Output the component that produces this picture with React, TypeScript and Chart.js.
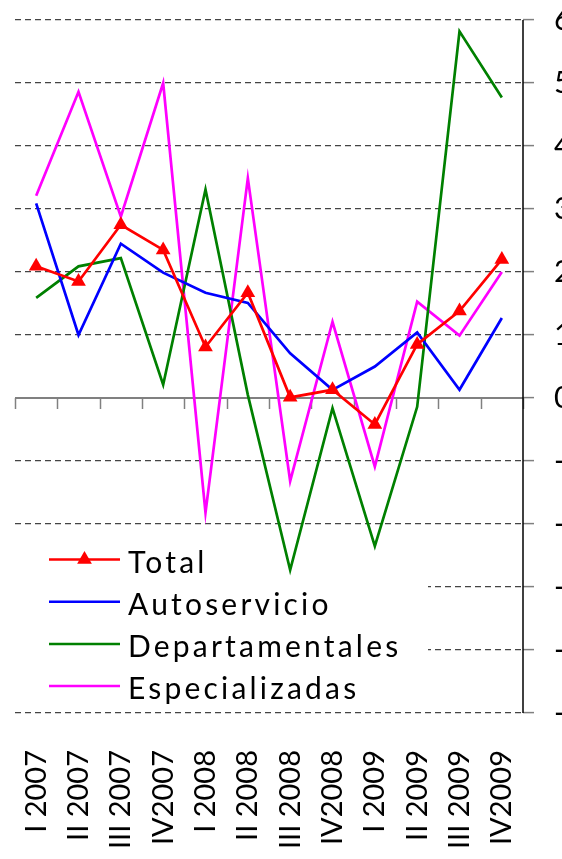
import React, { useEffect, useRef } from "react";
import { Chart, registerables } from "chart.js";

Chart.register(...registerables);

const categories = [
  "I 2007", "II 2007", "III 2007", "IV2007",
  "I 2008", "II 2008", "III 2008", "IV2008",
  "I 2009", "II 2009", "III 2009", "IV2009",
];

const total = [2.09, 1.85, 2.75, 2.35, 0.81, 1.67, 0.01, 0.13, -0.42, 0.85, 1.38, 2.2];
const autoservicio = [3.09, 1.0, 2.45, 1.99, 1.67, 1.51, 0.71, 0.13, 0.5, 1.04, 0.13, 1.27];
const departamentales = [1.59, 2.09, 2.22, 0.21, 3.31, 0.05, -2.73, -0.16, -2.35, -0.14, 5.82, 4.77];
const especializadas = [3.21, 4.86, 2.88, 5.0, -1.82, 3.49, -1.32, 1.21, -1.09, 1.53, 0.99, 2.0];

const seriesNames = ["Total", "Autoservicio", "Departamentales", "Especializadas"];
const seriesColors = ["#FF0000", "#0000FF", "#008000", "#FF00FF"];

const yMin = -5;
const yMax = 6;

const FONT = "Lato, 'Open Sans', sans-serif";

const extrasPlugin = {
  id: "extras",
  beforeDatasetsDraw(chart: any) {
    const { ctx, chartArea } = chart;
    const x = chart.scales.x;
    const y = chart.scales.y;
    ctx.save();
    ctx.fillStyle = "#ffffff";
    ctx.fillRect(chartArea.left, 542, 428 - chartArea.left, 162);
    const y0 = y.getPixelForValue(0);
    ctx.strokeStyle = "#808080";
    ctx.lineWidth = 2;
    ctx.beginPath();
    ctx.moveTo(chartArea.left, y0);
    ctx.lineTo(chartArea.right, y0);
    ctx.stroke();
    ctx.lineWidth = 1.5;
    for (let i = 0; i <= categories.length; i++) {
      const px = Math.round(x.getPixelForValue(i - 0.5)) + 0.5;
      ctx.beginPath();
      ctx.moveTo(px, y0);
      ctx.lineTo(px, y0 + 11);
      ctx.stroke();
    }
    ctx.strokeStyle = "#000000";
    ctx.lineWidth = 1.5;
    ctx.beginPath();
    ctx.moveTo(chartArea.right, y.getPixelForValue(yMax));
    ctx.lineTo(chartArea.right, y.getPixelForValue(yMin));
    ctx.stroke();
    ctx.restore();
  },
  afterDraw(chart: any) {
    const { ctx } = chart;
    ctx.save();
    const baseY = 559.5;
    const step = 42.2;
    chart.data.datasets.forEach((ds: any, i: number) => {
      const ly = baseY + i * step;
      ctx.strokeStyle = ds.borderColor;
      ctx.lineWidth = 2.5;
      ctx.beginPath();
      ctx.moveTo(49, ly);
      ctx.lineTo(120, ly);
      ctx.stroke();
      if (ds.pointStyle === "triangle") {
        const r = 8.5;
        const cx = 84.5;
        ctx.fillStyle = ds.borderColor;
        ctx.beginPath();
        ctx.moveTo(cx, ly - r);
        ctx.lineTo(cx + Math.sin((2 * Math.PI) / 3) * r, ly + r / 2);
        ctx.lineTo(cx - Math.sin((2 * Math.PI) / 3) * r, ly + r / 2);
        ctx.closePath();
        ctx.fill();
      }
      ctx.fillStyle = "#000000";
      ctx.font = `30px ${FONT}`;
      (ctx as any).letterSpacing = "3.2px";
      ctx.textBaseline = "alphabetic";
      ctx.textAlign = "left";
      ctx.fillText(ds.label, 128, ly + 13);
    });
    ctx.restore();
  },
};

export default function App() {
  const ref = useRef<HTMLCanvasElement>(null);
  useEffect(() => {
    if (!ref.current) return;
    const allSeries = [total, autoservicio, departamentales, especializadas];
    const chart = new Chart(ref.current, {
      type: "line",
      data: {
        labels: categories,
        datasets: allSeries.map((d, i) => ({
          label: seriesNames[i],
          data: d,
          borderColor: seriesColors[i],
          backgroundColor: seriesColors[i],
          borderWidth: 2.7,
          pointStyle: i === 0 ? "triangle" : "circle",
          pointRadius: i === 0 ? 8.5 : 0,
          pointBorderWidth: 0,
          tension: 0,
          fill: false,
        })),
      },
      options: {
        animation: false,
        responsive: false,
        maintainAspectRatio: false,
        layout: { padding: { left: 15, top: 20, right: 0, bottom: 0 } },
        plugins: { legend: { display: false }, tooltip: { enabled: false } },
        scales: {
          x: {
            type: "category",
            offset: true,
            grid: { display: false },
            border: { display: false },
            ticks: {
              autoSkip: false,
              minRotation: 90,
              maxRotation: 90,
              padding: 29,
              color: "#000000",
              font: { family: FONT, size: 29 },
            },
            afterFit(scale: any) {
              scale.height = 146;
              scale.paddingLeft = 0;
              scale.paddingRight = 0;
            },
          },
          y: {
            position: "right",
            min: yMin,
            max: yMax,
            grid: {
              color: (c: any) => (c.tick && c.tick.value === 0 ? "rgba(0,0,0,0)" : "#444444"),
              lineWidth: 1.2,
              drawTicks: true,
              tickLength: 11,
              tickColor: "#808080",
              tickWidth: 1.5,
            },
            border: { display: false, dash: [6, 4] },
            ticks: {
              stepSize: 1,
              padding: 20,
              color: "#000000",
              font: { family: FONT, size: 30 },
            },
            afterFit(scale: any) {
              scale.width = 77;
              scale.paddingTop = 0;
              scale.paddingBottom = 0;
            },
          },
        },
      },
      plugins: [extrasPlugin],
    });
    return () => chart.destroy();
  }, []);
  return (
    <div style={{ position: "fixed", left: 0, top: 0, width: 562, height: 859, overflow: "hidden", background: "#fff" }}>
      <canvas ref={ref} width={600} height={859} style={{ display: "block", width: 600, height: 859 }} />
    </div>
  );
}
